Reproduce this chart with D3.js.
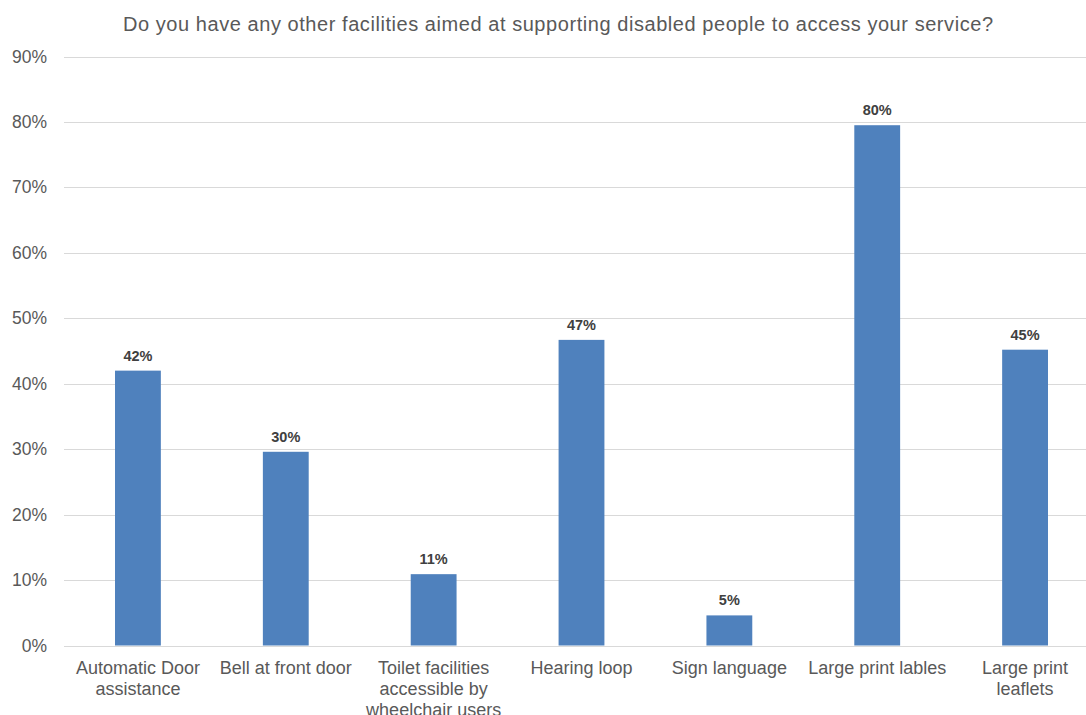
<!DOCTYPE html>
<html>
<head>
<meta charset="utf-8">
<script src="https://cdn.jsdelivr.net/npm/d3@7"></script>
<style>
  html, body { margin: 0; padding: 0; background: #fff; }
  svg { display: block; }
</style>
</head>
<body>
<svg id="chart" width="1086" height="715"></svg>
<script>
const title = "Do you have any other facilities aimed at supporting disabled people to access your service?";
const categories = [
  "Automatic Door assistance",
  "Bell at front door",
  "Toilet facilities accessible by wheelchair users",
  "Hearing loop",
  "Sign language",
  "Large print lables",
  "Large print leaflets"
];
const categoryLines = [
  ["Automatic Door", "assistance"],
  ["Bell at front door"],
  ["Toilet facilities", "accessible by", "wheelchair users"],
  ["Hearing loop"],
  ["Sign language"],
  ["Large print lables"],
  ["Large print", "leaflets"]
];
const values = [0.420, 0.296, 0.109, 0.467, 0.046, 0.795, 0.452];
const valueLabels = ["42%", "30%", "11%", "47%", "5%", "80%", "45%"];
const yTicks = [0, 0.1, 0.2, 0.3, 0.4, 0.5, 0.6, 0.7, 0.8, 0.9];

const svg = d3.select("#chart");
const font = "'Liberation Sans', Arial, sans-serif";

const x = d3.scaleBand()
  .domain(categories)
  .range([64, 1099])
  .paddingInner(0.69)
  .paddingOuter(0.345);

const y = d3.scaleLinear()
  .domain([0, 0.9])
  .range([645.5, 56.5]);

// Title
svg.append("text")
  .attr("x", 558)
  .attr("y", 31)
  .attr("text-anchor", "middle")
  .attr("font-family", font)
  .attr("font-size", 20)
  .attr("textLength", 870)
  .attr("lengthAdjust", "spacing")
  .attr("fill", "#595959")
  .text(title);

// Gridlines
svg.append("g")
  .selectAll("line")
  .data(yTicks)
  .join("line")
  .attr("x1", 64)
  .attr("x2", 1086)
  .attr("y1", d => Math.round(y(d)) + 0.5)
  .attr("y2", d => Math.round(y(d)) + 0.5)
  .attr("stroke", "#d9d9d9")
  .attr("stroke-width", 1.2);

// Y axis
const yAxis = d3.axisLeft(y)
  .tickValues(yTicks)
  .tickFormat(d3.format(".0%"))
  .tickSize(0)
  .tickPadding(0);
const yg = svg.append("g")
  .attr("transform", "translate(47,0)")
  .call(yAxis);
yg.select(".domain").remove();
yg.selectAll("text")
  .attr("font-family", font)
  .attr("font-size", 17.5)
  .attr("fill", "#595959");

// Bars
svg.append("g")
  .selectAll("rect")
  .data(values)
  .join("rect")
  .attr("x", (d, i) => x(categories[i]))
  .attr("width", x.bandwidth())
  .attr("y", d => y(d))
  .attr("height", d => y(0) - y(d))
  .attr("fill", "#4f81bd");

// Value labels
svg.append("g")
  .selectAll("text")
  .data(values)
  .join("text")
  .attr("x", (d, i) => x(categories[i]) + x.bandwidth() / 2)
  .attr("y", d => y(d) - 10)
  .attr("text-anchor", "middle")
  .attr("font-family", font)
  .attr("font-size", 14.5)
  .attr("font-weight", "bold")
  .attr("fill", "#404040")
  .text((d, i) => valueLabels[i]);

// X axis labels
const xg = svg.append("g");
categories.forEach((c, i) => {
  const t = xg.append("text")
    .attr("x", x(c) + x.bandwidth() / 2)
    .attr("y", 673.5)
    .attr("text-anchor", "middle")
    .attr("font-family", font)
    .attr("font-size", 18)
    .attr("fill", "#595959");
  categoryLines[i].forEach((line, j) => {
    t.append("tspan")
      .attr("x", x(c) + x.bandwidth() / 2)
      .attr("dy", j === 0 ? 0 : 21)
      .text(line);
  });
});
</script>
</body>
</html>
